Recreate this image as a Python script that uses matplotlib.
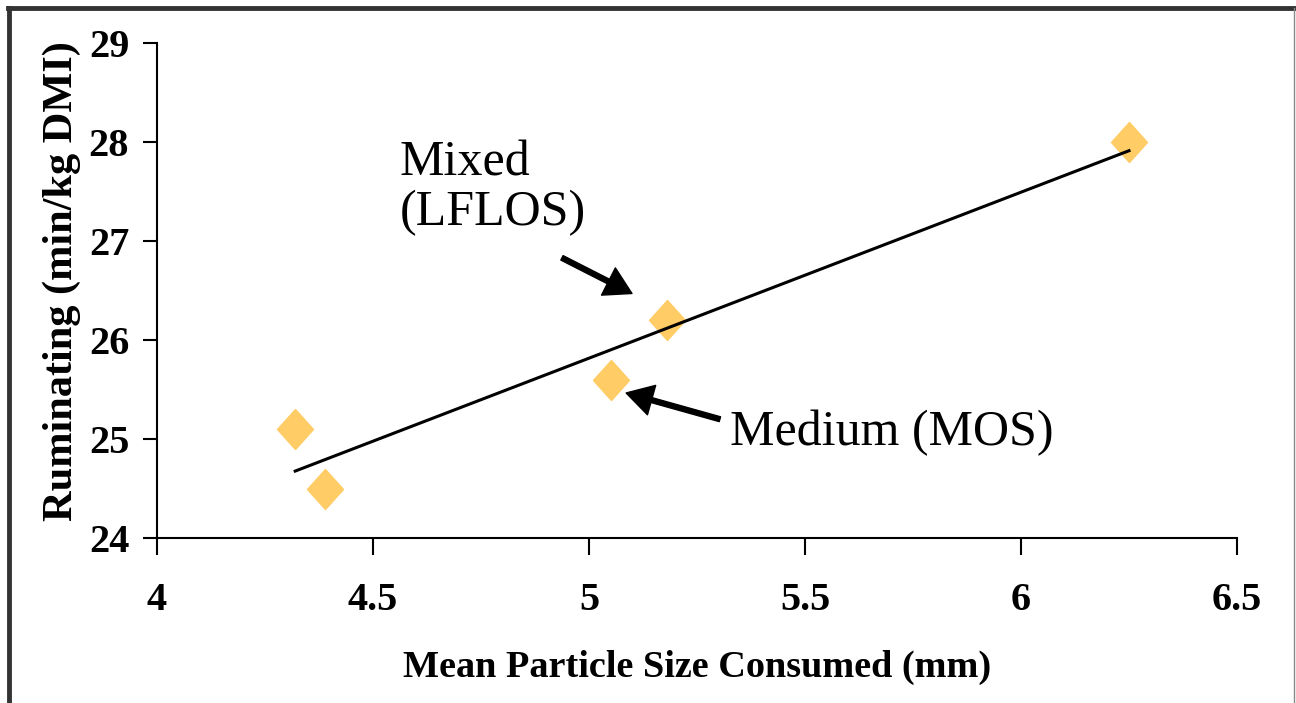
"""
Rumination time vs. mean particle size consumed, with a linear trendline.
"""

import numpy as np
import matplotlib.pyplot as plt
from matplotlib.lines import Line2D

# ---------------------------------------------------------------------------
# Data
# ---------------------------------------------------------------------------

particle_size = [4.32, 4.39, 5.05, 5.18, 6.25]   # mm
ruminating    = [25.1, 24.5, 25.6, 26.2, 28.0]   # min/kg DMI

x_ticks = [4, 4.5, 5, 5.5, 6, 6.5]
x_tick_labels = ["4", "4.5", "5", "5.5", "6", "6.5"]
y_ticks = [24, 25, 26, 27, 28, 29]

MARKER_COLOR = "#FFCC66"
SERIF = ["Liberation Serif", "DejaVu Serif"]

# ---------------------------------------------------------------------------
# Figure
# ---------------------------------------------------------------------------

plt.rcParams["font.family"] = SERIF

fig = plt.figure(figsize=(12.96, 7.03), dpi=100)
ax = fig.add_axes([0.1211, 0.2347, 0.8334, 0.7041])

# diamond slightly taller than wide
diamond = [(0, 1), (0.9, 0), (0, -1), (-0.9, 0), (0, 1)]
ax.plot(particle_size, ruminating, linestyle="none", marker=diamond,
        ms=28.8, color=MARKER_COLOR, mec=MARKER_COLOR, zorder=2)

# linear trendline across the data range
slope, intercept = np.polyfit(particle_size, ruminating, 1)
xs = np.array([min(particle_size), max(particle_size)])
ax.plot(xs, slope * xs + intercept, color="black", lw=2.2, zorder=3)

ax.set_xlim(4, 6.5)
ax.set_ylim(24, 29)
ax.set_xticks(x_ticks)
ax.set_xticklabels(x_tick_labels)
ax.set_yticks(y_ticks)

for side in ("top", "right"):
    ax.spines[side].set_visible(False)
for side in ("left", "bottom"):
    ax.spines[side].set_linewidth(1.5)

ax.tick_params(axis="both", direction="out", width=1.5, labelsize=29)
ax.tick_params(axis="x", length=12, pad=20)
ax.tick_params(axis="y", length=10, pad=10)
for lbl in ax.get_xticklabels() + ax.get_yticklabels():
    lbl.set_fontweight("bold")

ax.set_xlabel("Mean Particle Size Consumed (mm)", fontsize=27.5,
              fontweight="bold")
ax.xaxis.set_label_coords(0.5, -0.225)
ax.set_ylabel("Ruminating (min/kg DMI)", fontsize=30.5, fontweight="bold")
ax.yaxis.set_label_coords(-0.07, 0.52)

# annotations
arrow_kw = dict(facecolor="black", edgecolor="black", width=3.6,
                headwidth=22, headlength=19, shrink=0)
ax.text(4.5625, 28.02, "Mixed\n(LFLOS)", fontsize=36, ha="left", va="top",
        linespacing=1.1)
ax.annotate("", xy=(5.0995, 26.47), xytext=(4.9375, 26.83),
            arrowprops=arrow_kw)
ax.text(5.326, 25.06, "Medium (MOS)", fontsize=36, ha="left", va="center")
ax.annotate("", xy=(5.086, 25.465), xytext=(5.303, 25.2),
            arrowprops=arrow_kw)

# outer frame (top, left dark; right thin grey)
fig.add_artist(Line2D([0.0062, 1.0], [0.9893, 0.9893], color="#333333", lw=3.5))
fig.add_artist(Line2D([0.0070, 0.0070], [0.0, 0.9893], color="#333333", lw=3.5))
fig.add_artist(Line2D([0.9985, 0.9985], [0.0, 0.9893], color="#888888", lw=1.0))

plt.savefig("out.png", dpi=100)
plt.close()
